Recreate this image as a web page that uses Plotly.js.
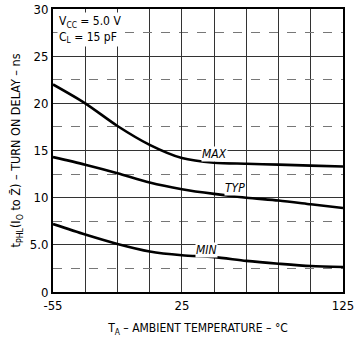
<!DOCTYPE html>
<html>
<head>
<meta charset="utf-8">
<script src="https://cdn.plot.ly/plotly-3.0.1.min.js"></script>
<style>html,body{margin:0;padding:0;background:#fff;}#chart{width:358px;height:341px;}</style>
</head>
<body>
<div id="chart"></div>
<script>
const temps = [-55, -35, -15, 5, 25, 45, 65, 85, 105, 125];
const maxDelay = [22.0, 20.0, 17.6, 15.6, 14.2, 13.7, 13.6, 13.5, 13.4, 13.3];
const typDelay = [14.3, 13.5, 12.6, 11.6, 10.9, 10.4, 10.0, 9.7, 9.3, 8.9];
const minDelay = [7.2, 6.1, 5.1, 4.3, 3.9, 3.7, 3.3, 3.0, 2.75, 2.65];
const xTickVals = [-55, 25, 125];
const xTickText = ['-55', '25', '125'];
const yTickVals = [0, 5, 10, 15, 20, 25, 30];
const yTickText = ['0', '5.0', '10', '15', '20', '25', '30'];
const curveLabels = [
  {text: 'MAX', x: 45, y: 14.6},
  {text: 'TYP', x: 58, y: 11.0},
  {text: 'MIN', x: 40, y: 4.4}
];

const FONT = '"DejaVu Sans Condensed", "Liberation Sans Narrow", "Liberation Sans", sans-serif';
const lineStyle = {color: '#000', width: 2.6, shape: 'spline', smoothing: 0.8};

const traces = [
  {x: temps, y: maxDelay, mode: 'lines', line: lineStyle, hoverinfo: 'skip'},
  {x: temps, y: typDelay, mode: 'lines', line: lineStyle, hoverinfo: 'skip'},
  {x: temps, y: minDelay, mode: 'lines', line: lineStyle, hoverinfo: 'skip'}
];

const annotations = curveLabels.map(l => ({
  x: l.x, y: l.y, xref: 'x', yref: 'y', text: '<i>' + l.text + '</i>',
  showarrow: false, font: {family: FONT, size: 12, color: '#000'}, bgcolor: '#fff', borderpad: 0
}));
annotations.push({
  xref: 'paper', yref: 'paper', x: 0.015, y: 0.99, xanchor: 'left', yanchor: 'top', align: 'left',
  text: 'V<sub>CC</sub> = 5.0 V<br>C<sub>L</sub> = 15 pF', showarrow: false,
  font: {family: FONT, size: 12, color: '#000'}, bgcolor: '#fff', borderpad: 1
});

const layout = {
  width: 358, height: 341,
  margin: {l: 53, r: 15, t: 9, b: 49},
  paper_bgcolor: '#fff', plot_bgcolor: '#fff',
  showlegend: false,
  font: {family: FONT, size: 12, color: '#000'},
  xaxis: {
    range: [-55, 125], tickmode: 'array', tickvals: xTickVals, ticktext: xTickText,
    showgrid: true, gridcolor: '#333', gridwidth: 1, zeroline: false,
    minor: {tick0: -55, dtick: 20, showgrid: true, gridcolor: '#333', gridwidth: 1},
    showline: true, linecolor: '#000', linewidth: 2, mirror: true, ticks: '',
    tickfont: {family: FONT, size: 13, color: '#000'},
    title: {text: 'T<sub>A</sub> – AMBIENT TEMPERATURE – °C', font: {family: FONT, size: 12, color: '#000'}, standoff: 12}
  },
  yaxis: {
    range: [0, 30], tickmode: 'array', tickvals: yTickVals, ticktext: yTickText,
    showgrid: true, gridcolor: '#333', gridwidth: 1, zeroline: false,
    showline: true, linecolor: '#000', linewidth: 2, mirror: true, ticks: '',
    tickfont: {family: FONT, size: 13, color: '#000'},
    minor: {dtick: 2.5, tick0: 0, showgrid: true, gridcolor: '#777', gridwidth: 1, griddash: 'dash'},
    title: {text: 't<sub>PHL</sub>(I<sub>O</sub> to Z\u0304) – TURN ON DELAY – ns', font: {family: FONT, size: 12.5, color: '#000'}, standoff: 6}
  },
  annotations: annotations
};

Plotly.newPlot('chart', traces, layout, {displayModeBar: false, staticPlot: true});
</script>
</body>
</html>
